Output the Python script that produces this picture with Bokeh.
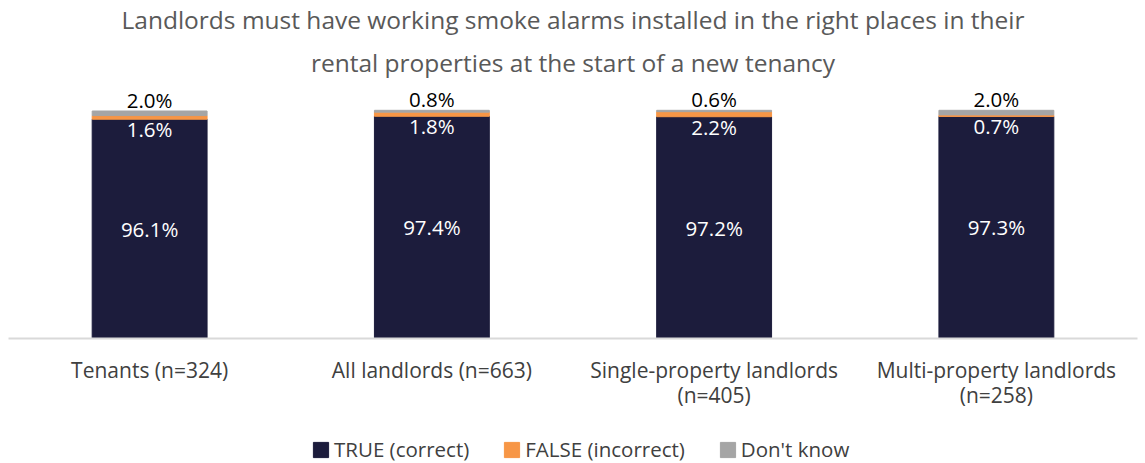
from bokeh.plotting import figure
from bokeh.models import ColumnDataSource, Legend, LegendItem, Range1d, FactorRange, Title
from bokeh.layouts import column
from bokeh.core.properties import value
from bokeh.embed import file_html
from bokeh.resources import INLINE

categories = ["Tenants (n=324)", "All landlords (n=663)", "Single-property landlords\n(n=405)", "Multi-property landlords\n(n=258)"]
true_vals = [96.1, 97.4, 97.2, 97.3]
false_vals = [1.6, 1.8, 2.2, 0.7]
dk_vals = [2.0, 0.8, 0.6, 2.0]
series_names = ["TRUE (correct)", "FALSE (incorrect)", "Don't know"]
colors = ["#1c1c3c", "#f79646", "#a5a5a5"]
title_lines = ["Landlords must have working smoke alarms installed in the right places in their",
               "rental properties at the start of a new tenancy"]

FONT = "Open Sans"
NAN = float("nan")

t = [v / 100 for v in true_vals]
f = [v / 100 for v in false_vals]
d = [v / 100 for v in dk_vals]
b2 = [a + b for a, b in zip(t, f)]
b3 = [a + b for a, b in zip(b2, d)]

src = ColumnDataSource(dict(
    cat=categories, zero=[0] * 4, t=t, b2=b2, b3=b3,
    tmid=[v / 2 for v in t],
    tl=[f"{v:.1f}%" for v in true_vals],
    fl=[f"{v:.1f}%" for v in false_vals],
    dl=[f"{v:.1f}%" for v in dk_vals],
))

p = figure(frame_width=1129, frame_height=251, x_range=FactorRange(*categories), y_range=Range1d(0, 1.10),
           output_backend="svg", toolbar_location=None,
           min_border_left=8, min_border_right=8, min_border_top=87, min_border_bottom=72)

r1 = p.vbar(x="cat", bottom="zero", top="t", width=0.407, color=colors[0], source=src)
r2 = p.vbar(x="cat", bottom="t", top="b2", width=0.407, color=colors[1], source=src)
r3 = p.vbar(x="cat", bottom="b2", top="b3", width=0.407, color=colors[2], source=src)

p.text(x="cat", y="tmid", text="tl", source=src, text_align="center", text_baseline="middle",
       text_color="white", text_font=value(FONT), text_font_size="20.5px")
p.text(x="cat", y="t", text="fl", source=src, text_align="center", text_baseline="top", y_offset=-4,
       text_color="white", text_font=value(FONT), text_font_size="20.5px")
p.text(x="cat", y="b3", text="dl", source=src, text_align="center", text_baseline="bottom", y_offset=3,
       text_color="black", text_font=value(FONT), text_font_size="20.5px")

p.title.text = title_lines[0]
p.title.align = "center"
p.title.text_font = FONT
p.title.text_font_style = "normal"
p.title.text_font_size = "24.5px"
p.title.text_color = "#595959"
p.title.standoff = 0
p.add_layout(Title(text=title_lines[1], align="center", text_font=FONT, text_font_style="normal",
                   text_font_size="24.5px", text_color="#595959",
                   standoff=17), "above")

p.yaxis.visible = False
p.xgrid.visible = False
p.ygrid.visible = False
p.outline_line_color = None
p.xaxis.axis_line_color = "#d9d9d9"
p.xaxis.axis_line_width = 2
p.xaxis.major_tick_line_color = None
p.xaxis.minor_tick_line_color = None
p.xaxis.major_label_text_font = FONT
p.xaxis.major_label_text_font_size = "21px"
p.xaxis.major_label_text_line_height = 0.9
p.xaxis.major_label_text_color = "#404040"
p.xaxis.major_label_standoff = 11
p.x_range.range_padding = 0
p.x_range.group_padding = 0

# legend strip
lf = figure(width=1145, height=53, output_backend="svg", toolbar_location=None,
            x_range=Range1d(0, 1), y_range=Range1d(0, 1),
            min_border_left=0, min_border_right=0, min_border_top=0, min_border_bottom=0)
lf.axis.visible = False
lf.grid.visible = False
lf.outline_line_color = None
lr = [lf.vbar(x=[NAN], top=[NAN], width=0.1, color=c) for c in colors]
legend = Legend(items=[LegendItem(label=n, renderers=[r]) for n, r in zip(series_names, lr)],
                orientation="horizontal", location=(303, 1),
                label_text_font=FONT, label_text_font_size="20.5px", label_text_color="#404040",
                label_text_line_height=0.8,
                glyph_width=19, glyph_height=19, spacing=33, label_standoff=4,
                border_line_color=None, background_fill_alpha=0, margin=0, padding=0)
lf.add_layout(legend, "center")

open("out.html", "w").write(file_html(column(p, lf, spacing=0), INLINE))
